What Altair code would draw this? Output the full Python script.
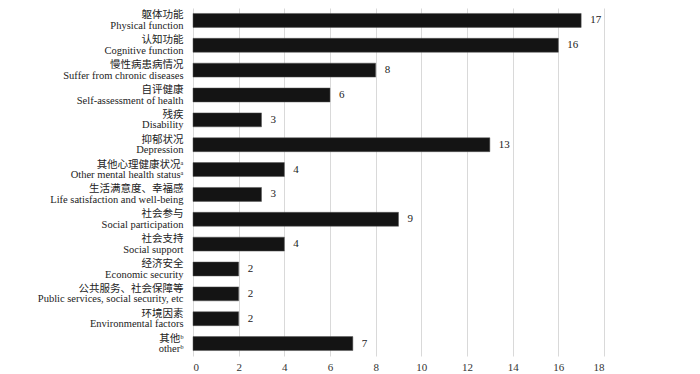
import altair as alt
import pandas as pd

labels_cn = ["躯体功能", "认知功能", "慢性病患病情况", "自评健康", "残疾", "抑郁状况",
             "其他心理健康状况ᵃ", "生活满意度、幸福感", "社会参与", "社会支持", "经济安全",
             "公共服务、社会保障等", "环境因素", "其他ᵇ"]
labels_en = ["Physical function", "Cognitive function", "Suffer from chronic diseases",
             "Self-assessment of health", "Disability", "Depression",
             "Other mental health statusᵃ", "Life satisfaction and well-being",
             "Social participation", "Social support", "Economic security",
             "Public services, social security, etc", "Environmental factors", "otherᵇ"]
values = [17, 16, 8, 6, 3, 13, 4, 3, 9, 4, 2, 2, 2, 7]
x_ticks = [0, 2, 4, 6, 8, 10, 12, 14, 16, 18]

cats = [c + "|" + e for c, e in zip(labels_cn, labels_en)]
df = pd.DataFrame({"cat": cats, "value": values})

FONT = "Liberation Serif, Times New Roman, Noto Sans CJK SC"

base = alt.Chart(df).encode(
    y=alt.Y("cat:N", sort=cats, title=None,
            axis=alt.Axis(labelExpr="split(datum.label, '|')", labelFont=FONT,
                          labelFontSize=10.5, labelLineHeight=10.5, labelColor="#222",
                          labelPadding=10, labelOffset=-5, ticks=False, domain=False,
                          grid=False, labelLimit=300)),
    x=alt.X("value:Q", title=None,
            scale=alt.Scale(domain=[0, 18], nice=False),
            axis=alt.Axis(values=x_ticks, grid=True, gridColor="#d9d9d9", ticks=False,
                          domain=False, labelFont=FONT, labelFontSize=11,
                          labelColor="#333", labelPadding=5)),
)

bars = base.mark_bar(color="#141414", stroke="#555", strokeWidth=0.5).encode()
text = base.mark_text(align="left", dx=9, font=FONT, fontSize=11, color="#222").encode(
    text="value:Q")

chart = (bars + text).properties(
    width=411, height=348,
    autosize=alt.AutoSizeParams(type="none"),
    padding={"left": 185, "top": 0, "right": 20, "bottom": 17},
).configure_scale(bandPaddingInner=0.44, bandPaddingOuter=0.22).configure_view(stroke=None)

chart.save("out.html", embed_options={"renderer": "svg", "actions": False})
